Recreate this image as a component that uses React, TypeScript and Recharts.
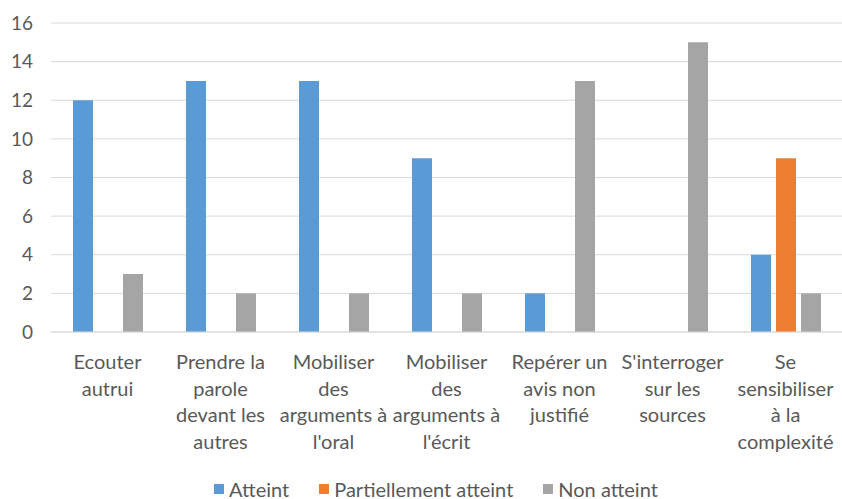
import { BarChart, Bar, XAxis, YAxis, CartesianGrid, Legend } from "recharts";

const labelLines = [
  ["Ecouter", "autrui"],
  ["Prendre la", "parole", "devant les", "autres"],
  ["Mobiliser", "des", "arguments à", "l'oral"],
  ["Mobiliser", "des", "arguments à", "l'écrit"],
  ["Repérer un", "avis non", "justifié"],
  ["S'interroger", "sur les", "sources"],
  ["Se", "sensibiliser", "à la", "complexité"],
];
const atteint = [12, 13, 13, 9, 2, 0, 4];
const partiel = [0, 0, 0, 0, 0, 0, 9];
const nonAtteint = [3, 2, 2, 2, 13, 15, 2];
const yTicks = [0, 2, 4, 6, 8, 10, 12, 14, 16];

const series = [
  { key: "atteint", name: "Atteint", color: "#5B9BD5" },
  { key: "partiel", name: "Partiellement atteint", color: "#ED7D31" },
  { key: "nonAtteint", name: "Non atteint", color: "#A5A5A5" },
];

const data = labelLines.map((lines, i) => ({
  name: lines.join(" "),
  atteint: atteint[i],
  partiel: partiel[i],
  nonAtteint: nonAtteint[i],
}));

const FONT = "Lato, 'Open Sans', sans-serif";
const TEXT = "#595959";

function CatTick(props: any) {
  const { x, y, payload } = props;
  const lines = labelLines[payload.index] || [payload.value];
  return (
    <text x={x} y={y} textAnchor="middle" fill={TEXT} fontSize={20} fontFamily={FONT}>
      {lines.map((l: string, i: number) => (
        <tspan key={i} x={x} dy={i === 0 ? 29 : 26.5}>{l}</tspan>
      ))}
    </text>
  );
}

function LegendBox() {
  return (
    <div style={{ display: "flex", justifyContent: "center", alignItems: "center", boxSizing: "border-box", height: 30, paddingTop: 9, paddingLeft: 30, lineHeight: "20px", fontFamily: FONT, fontSize: 20, color: TEXT }}>
      {series.map((s) => (
        <div key={s.key} style={{ display: "flex", alignItems: "center", margin: "0 15px" }}>
          <span style={{ width: 10, height: 10, background: s.color, display: "inline-block", marginRight: 5 }} />
          <span>{s.name}</span>
        </div>
      ))}
    </div>
  );
}

export default function App() {
  return (
    <div style={{ position: "absolute", left: 0, top: 0, width: 842, height: 499, background: "#fff" }}>
      <BarChart width={842} height={499} data={data} margin={{ top: 23, right: 0, left: 0, bottom: 0 }} barSize={20} barGap={5}>
        <CartesianGrid stroke="#d9d9d9" vertical={false} />
        <XAxis dataKey="name" tick={<CatTick />} tickLine={false} axisLine={{ stroke: "#d9d9d9" }} height={137} interval={0} />
        <YAxis domain={[0, 16]} ticks={yTicks} width={51} tickLine={false} axisLine={false} tickMargin={12}
          tick={{ fill: TEXT, fontSize: 19, fontFamily: FONT }} />
        <Legend verticalAlign="bottom" content={<LegendBox />} />
        {series.map((s) => (
          <Bar key={s.key} dataKey={s.key} name={s.name} fill={s.color} isAnimationActive={false} />
        ))}
      </BarChart>
    </div>
  );
}
